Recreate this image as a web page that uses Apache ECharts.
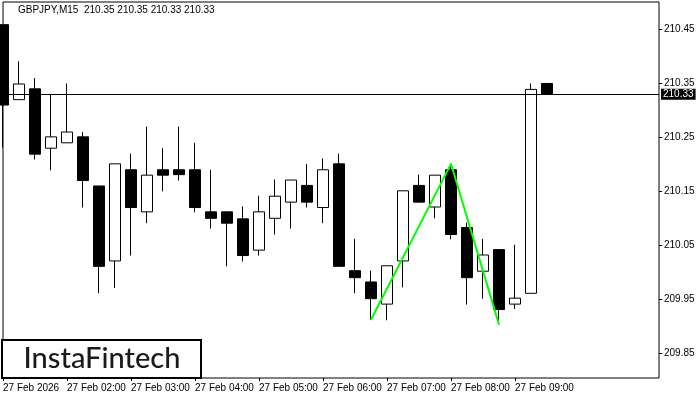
<!DOCTYPE html>
<html>
<head>
<meta charset="utf-8">
<title>GBPJPY M15</title>
<script src="https://cdn.jsdelivr.net/npm/echarts@6/dist/echarts.min.js"></script>
<style>
  html, body { margin: 0; padding: 0; background: #fff; }
  #chart { width: 700px; height: 400px; }
</style>
</head>
<body>
<div id="chart"></div>
<script>
// M15 bars, 27 Feb 01:00 .. 09:30, plus empty slots to the right edge
const times = [
  '01:00', '01:15', '01:30', '01:45', '02:00', '02:15', '02:30', '02:45',
  '03:00', '03:15', '03:30', '03:45', '04:00', '04:15', '04:30', '04:45',
  '05:00', '05:15', '05:30', '05:45', '06:00', '06:15', '06:30', '06:45',
  '07:00', '07:15', '07:30', '07:45', '08:00', '08:15', '08:30', '08:45',
  '09:00', '09:15', '09:30',
  '09:45', '10:00', '10:15', '10:30', '10:45', '11:00', '11:15'
]
const opens = [
  210.459, 210.320, 210.340, 210.230, 210.240, 210.251, 210.160, 210.021,
  210.190, 210.112, 210.190, 210.190, 210.190, 210.112, 210.112, 210.099,
  210.041, 210.100, 210.130, 210.161, 210.120, 210.201, 210.003, 209.982,
  209.941, 210.021, 210.161, 210.121, 210.190, 210.083, 210.002, 210.042,
  209.941, 209.961, 210.350
]
const highs = [
  210.459, 210.391, 210.360, 210.329, 210.350, 210.260, 210.160, 210.201,
  210.220, 210.270, 210.230, 210.270, 210.240, 210.190, 210.112, 210.122,
  210.142, 210.172, 210.171, 210.201, 210.211, 210.220, 210.062, 210.003,
  210.012, 210.151, 210.181, 210.180, 210.201, 210.092, 210.062, 210.042,
  210.051, 210.350, 210.350
]
const lows = [
  210.231, 210.320, 210.209, 210.189, 210.240, 210.120, 209.961, 209.971,
  210.031, 210.091, 210.150, 210.170, 210.111, 210.081, 210.011, 210.020,
  210.031, 210.070, 210.081, 210.120, 210.091, 210.011, 209.961, 209.912,
  209.911, 209.972, 210.130, 210.100, 210.061, 209.940, 209.951, 209.903,
  209.932, 209.961, 210.330
]
const closes = [
  210.310, 210.349, 210.219, 210.251, 210.260, 210.170, 210.011, 210.201,
  210.120, 210.180, 210.180, 210.181, 210.120, 210.100, 210.091, 210.031,
  210.112, 210.141, 210.171, 210.130, 210.190, 210.011, 209.990, 209.951,
  210.012, 210.151, 210.130, 210.180, 210.070, 209.990, 210.032, 209.931,
  209.952, 210.339, 210.330
]
const lastPrice = 210.33

// double top pattern line (bar index, price)
const patternIdx = [23, 28, 31]
const patternPrice = [209.912, 210.201, 209.903]

const yTicks = [209.85, 209.95, 210.05, 210.15, 210.25, 210.35, 210.45]
const xTickLabels = [
  '27 Feb 2026', '27 Feb 02:00', '27 Feb 03:00', '27 Feb 04:00', '27 Feb 05:00',
  '27 Feb 06:00', '27 Feb 07:00', '27 Feb 08:00', '27 Feb 09:00'
]

const candles = opens.map((o, i) => [o, closes[i], lows[i], highs[i]])
const pattern = patternIdx.map((idx, i) => [times[idx], patternPrice[i]])
const showTick = (i) => i % 4 === 0 && i / 4 < xTickLabels.length

const myChart = echarts.init(document.getElementById('chart'), null, { renderer: 'canvas' })
myChart.setOption({
  animation: false,
  backgroundColor: '#fff',
  textStyle: { fontFamily: 'Liberation Sans' },
  grid: {
    left: 2, right: 41, top: 2, bottom: 22,
    show: true, borderColor: '#000', borderWidth: 1, backgroundColor: '#fff'
  },
  xAxis: {
    type: 'category',
    data: times,
    boundaryGap: false,
    axisLine: { show: false },
    axisTick: { show: true, interval: (i) => showTick(i), length: 3, lineStyle: { color: '#000' } },
    axisLabel: {
      interval: (i) => showTick(i),
      formatter: (v, i) => xTickLabels[i / 4] || '',
      align: 'left',
      margin: 5,
      color: '#000',
      fontSize: 10
    },
    splitLine: { show: false }
  },
  yAxis: {
    type: 'value',
    position: 'right',
    min: 209.804,
    max: 210.501,
    axisLine: { show: false },
    axisTick: { show: true, customValues: yTicks, length: 3, lineStyle: { color: '#000' } },
    axisLabel: {
      customValues: yTicks,
      formatter: (v) => v.toFixed(2),
      color: '#000',
      fontSize: 10,
      margin: 5
    },
    splitLine: { show: false }
  },
  series: [
    {
      type: 'candlestick',
      data: candles,
      barWidth: 11,
      clip: true,
      itemStyle: {
        color: '#fff',
        color0: '#000',
        borderColor: '#000',
        borderColor0: '#000',
        borderWidth: 1
      },
      markLine: {
        silent: true,
        symbol: 'none',
        lineStyle: { color: '#000', type: 'solid', width: 1 },
        label: {
          show: true,
          position: 'end',
          distance: 2,
          formatter: lastPrice.toFixed(2),
          color: '#fff',
          backgroundColor: '#000',
          fontSize: 10,
          padding: [1, 2, 0, 2]
        },
        data: [{ yAxis: lastPrice }]
      }
    },
    {
      type: 'line',
      data: pattern,
      symbol: 'none',
      lineStyle: { color: '#00ff00', width: 2 },
      z: 5
    }
  ],
  graphic: [
    {
      type: 'text',
      left: 18,
      top: 5,
      style: {
        text: 'GBPJPY,M15  210.35 210.35 210.33 210.33',
        fill: '#000',
        font: '10px "Liberation Sans"'
      }
    },
    {
      type: 'rect',
      shape: { x: 2, y: 340, width: 199, height: 38 },
      style: { fill: '#fff', stroke: '#000', lineWidth: 2 },
      z: 10
    },
    {
      type: 'text',
      x: 102,
      y: 359,
      style: {
        text: 'InstaFintech',
        fill: '#1a1a1a',
        font: '500 29px Lato',
        align: 'center',
        verticalAlign: 'middle'
      },
      z: 11
    }
  ]
})

window.addEventListener('resize', () => {
  myChart.resize()
}, false)
</script>
</body>
</html>
